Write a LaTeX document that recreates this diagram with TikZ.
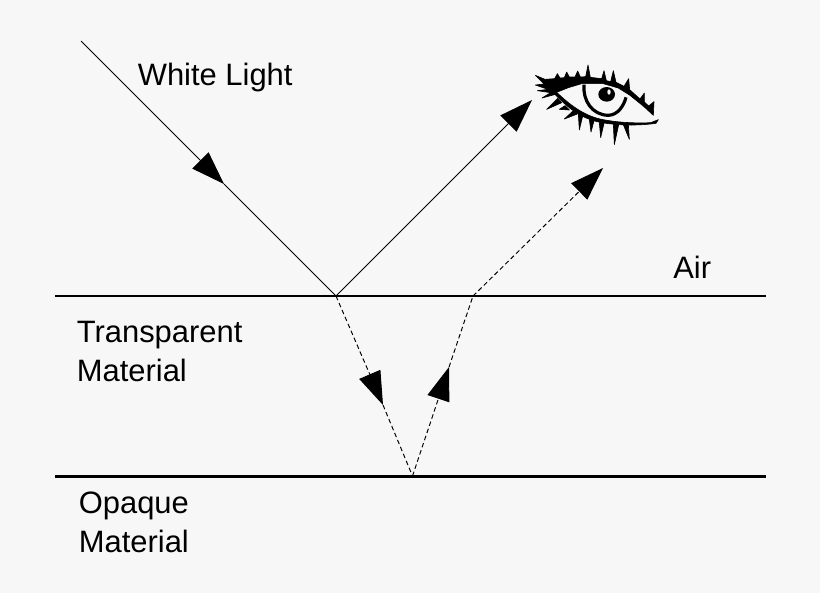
\documentclass[tikz,border=0pt]{standalone}
\usepackage{fontspec}
\setmainfont{Liberation Sans}
\usetikzlibrary{arrows.meta, positioning}

\begin{document}
\begin{tikzpicture}[x=0.02cm, y=-0.02cm]
    % --- Style Definitions ---
    \tikzset{
        interface line/.style={
            draw=black,
            line width=1.2pt
        },
        light ray/.style={
            draw=black,
            line width=0.55pt
        },
        hidden ray/.style={
            light ray,
            dash pattern=on 2.6pt off 1.7pt
        },
        ray head/.style={
            -{Triangle[length=19pt, width=13pt]}
        },
        label text/.style={
            font=\fontsize{17.6}{22.2}\selectfont,
            color=black,
            inner sep=0pt,
            align=left
        },
        eye part/.style={
            fill=black,
            draw=black,
            line width=0.35pt,
            line join=round
        }
    }

    % Background and page size
    \fill[white!97!black, use as bounding box] (0,0) rectangle (820,593);

    % --- 1. Interfaces ---
    \coordinate (airleft) at (55,296);
    \coordinate (airright) at (766,296);
    \coordinate (opaqueleft) at (55,476.5);
    \coordinate (opaqueright) at (766,476.5);
    \draw[interface line] (airleft) -- (airright);
    \draw[interface line] (opaqueleft) -- (opaqueright);

    % --- 2. Points where the light changes direction ---
    \coordinate (source) at (81,41);
    \coordinate (hitair) at (336,296);
    \coordinate (hitopaque) at (412.5,476);
    \coordinate (exitair) at (473,296);

    % Tips of the arrow heads
    \coordinate (tipin) at (224,184);
    \coordinate (tipeye) at (532,100);
    \coordinate (tipdown) at (383,405);
    \coordinate (tipup) at (449,367);
    \coordinate (tipexit) at (603,168);

    % --- 3. Solid rays ---
    \draw[light ray] (tipin) -- (hitair);
    \draw[light ray, ray head] (source) -- (tipin);
    \draw[light ray, ray head] (hitair) -- (tipeye);

    % --- 4. Dashed rays ---
    \draw[hidden ray] (tipdown) -- (hitopaque);
    \draw[hidden ray, ray head] (hitair) -- (tipdown);
    \draw[hidden ray] (tipup) -- (exitair);
    \draw[hidden ray, ray head] (hitopaque) -- (tipup);
    \draw[hidden ray, ray head] (exitair) -- (tipexit);

    % --- 5. Labels ---
    \node[label text, anchor=base west] (whitelight) at (137.5,85) {White Light};
    \node[label text, anchor=base west] (air) at (673,278) {Air};
    \node[label text, anchor=base west] (transparent) at (76.5,342) {Transparent};
    \node[label text, anchor=base west] (materialtop) at (76.5,381) {Material};
    \node[label text, anchor=base west] (opaque) at (78.5,513) {Opaque};
    \node[label text, anchor=base west] (materialbottom) at (78.5,552) {Material};

    % --- 6. The eye (units of a third of a pixel) ---
    \begin{scope}[shift={(520,50)}, x=0.02cm/3, y=-0.02cm/3]
        % Upper lid with its lashes
        \path[eye part] (46,76) -- (75,88) -- (104,86) -- (112,71) -- (120,84) -- (133,83)
            -- (140,66) -- (148,81) -- (165,81) -- (173,63) -- (181,81) -- (197,80)
            -- (204,45) -- (211,82) -- (245,86) -- (252,62) -- (259,92) -- (272,95)
            -- (280,62) -- (288,97) -- (312,109) -- (326,86) -- (329,119) -- (360,147)
            -- (373,129) -- (373,156) -- (386,168) -- (402,155) -- (400,196)
            -- (372,170) -- (330,136) -- (295,114) -- (250,101) -- (185,101)
            -- (145,113) -- (110,127) -- (103,134) -- (66,144) -- (92,128)
            -- (52,122) -- (84,118) -- (46,105) -- (72,102) -- cycle;
        % Lower lid
        \path[eye part] (110,127) .. controls (150,165) and (190,195) .. (240,207)
            .. controls (290,218) and (350,220) .. (392,218)
            -- (415,209) -- (408,220) .. controls (350,228) and (290,226) .. (240,217)
            .. controls (185,205) and (150,180) .. (104,132) -- cycle;
        % Lower lashes
        \path[eye part] (113,145) -- (80,178) -- (125,158) -- cycle;
        \path[eye part] (135,167) -- (118,178) -- (148,180) -- cycle;
        \path[eye part] (160,182) -- (133,207) -- (172,192) -- cycle;
        \path[eye part] (175,192) -- (178,240) -- (188,198) -- cycle;
        \path[eye part] (208,208) -- (213,246) -- (222,212) -- cycle;
        \path[eye part] (238,218) -- (242,263) -- (252,220) -- cycle;
        \path[eye part] (280,222) -- (283,284) -- (296,224) -- cycle;
        \path[eye part] (310,224) -- (328,268) -- (325,224) -- cycle;
        % Iris
        \draw[black, line width=1.8pt] (192,104) .. controls (188,150) and (215,195) .. (265,196)
            .. controls (295,195) and (312,165) .. (318,142);
        % Pupil
        \fill[black] (260,133) ellipse [x radius=25, y radius=22];
        \fill[white!97!black] (267,126) ellipse [x radius=5, y radius=8];
    \end{scope}
\end{tikzpicture}
\end{document}
